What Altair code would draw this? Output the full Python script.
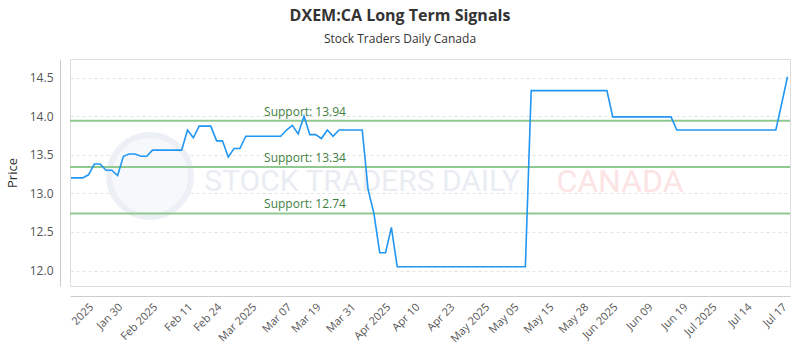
import altair as alt
import pandas as pd

# ---- data ----
price = [
    13.20, 13.20, 13.20, 13.24, 13.38, 13.38, 13.30, 13.30, 13.23, 13.48,
    13.51, 13.51, 13.48, 13.48, 13.56, 13.56, 13.56, 13.56, 13.56, 13.56,
    13.82, 13.72, 13.87, 13.87, 13.87, 13.68, 13.68, 13.47, 13.58, 13.58,
    13.74, 13.74, 13.74, 13.74, 13.74, 13.74, 13.74, 13.82, 13.88, 13.77,
    14.00, 13.76, 13.76, 13.71, 13.82, 13.74, 13.82, 13.82, 13.82, 13.82,
    13.82, 13.05, 12.74, 12.23, 12.23, 12.56, 12.05, 12.05, 12.05, 12.05,
    12.05, 12.05, 12.05, 12.05, 12.05, 12.05, 12.05, 12.05, 12.05, 12.05,
    12.05, 12.05, 12.05, 12.05, 12.05, 12.05, 12.05, 12.05, 12.05, 14.33,
    14.33, 14.33, 14.33, 14.33, 14.33, 14.33, 14.33, 14.33, 14.33, 14.33,
    14.33, 14.33, 14.33, 13.99, 13.99, 13.99, 13.99, 13.99, 13.99, 13.99,
    13.99, 13.99, 13.99, 13.99, 13.82, 13.82, 13.82, 13.82, 13.82, 13.82,
    13.82, 13.82, 13.82, 13.82, 13.82, 13.82, 13.82, 13.82, 13.82, 13.82,
    13.82, 13.82, 14.16, 14.51,
]
day_index = list(range(len(price)))

tick_index = [4, 9, 15, 21, 26, 32, 38, 43, 49, 55, 60, 66, 72, 77, 83, 89,
              94, 100, 106, 111, 117, 123]
tick_labels = ["2025", "Jan 30", "Feb 2025", "Feb 11", "Feb 24", "Mar 2025",
               "Mar 07", "Mar 19", "Mar 31", "Apr 2025", "Apr 10", "Apr 23",
               "May 2025", "May 05", "May 15", "May 28", "Jun 2025", "Jun 09",
               "Jun 19", "Jul 2025", "Jul 14", "Jul 17"]

support_levels = [13.94, 13.34, 12.74]
y_ticks = [12.0, 12.5, 13.0, 13.5, 14.0, 14.5]

df = pd.DataFrame({"i": day_index, "price": price})
sup = pd.DataFrame({"level": support_levels})
sup["label"] = ["Support: %.2f" % v for v in support_levels]

labels_js = "[" + ",".join("'%s'" % s for s in tick_labels) + "]"
ticks_js = "[" + ",".join(str(t) for t in tick_index) + "]"
label_expr = f"{labels_js}[indexof({ticks_js}, datum.value)]"

FONT = "Open Sans"
WM_FONT = "Roboto"

x_scale = alt.Scale(domain=[-0.17, 123.43], nice=False, zero=False)
y_scale = alt.Scale(domain=[11.8, 14.74], nice=False, zero=False)

x_enc = alt.X("i:Q", scale=x_scale, axis=alt.Axis(
    values=tick_index, labelExpr=label_expr, labelAngle=-45, grid=False,
    ticks=False, offset=10, domainColor="#cccccc", labelColor="#555555",
    labelFontSize=11, labelFont=FONT, labelPadding=5, labelOffset=-7,
    title=None, labelOverlap=False, labelFlush=False))
y_enc = alt.Y("price:Q", scale=y_scale, axis=alt.Axis(
    values=y_ticks, format=".1f", grid=True, gridDash=[3, 3],
    gridColor="#e3e3e3", ticks=False, offset=10, domainColor="#cccccc",
    labelColor="#555555", labelFontSize=12, labelFont=FONT, labelPadding=7,
    title="Price", titleFont=FONT, titleFontSize=13, titleFontWeight="normal",
    titleColor="#333333", titlePadding=10))

# watermark
wm = pd.DataFrame({"t": ["STOCK TRADERS DAILY"]})
logo = alt.Chart(wm).mark_point(
    shape="circle", size=6700, filled=True, fill="#f6f8fb", strokeWidth=6,
    stroke="#eceff5", opacity=1).encode(x=alt.value(80), y=alt.value(117))
wm_text = alt.Chart(wm).mark_text(
    font=WM_FONT, fontSize=30, color="#e9edf3", align="center",
    baseline="middle").encode(x=alt.value(292), y=alt.value(123), text="t:N")
wm_text2 = alt.Chart(pd.DataFrame({"t": ["CANADA"]})).mark_text(
    font=WM_FONT, fontSize=32, color="#fce4e4", align="center",
    baseline="middle").encode(x=alt.value(550), y=alt.value(123), text="t:N")

rules = alt.Chart(sup).mark_rule(color="#8fc98f", strokeWidth=2).encode(
    y=alt.Y("level:Q", scale=y_scale))
rule_text = alt.Chart(sup).mark_text(
    font=FONT, fontSize=12, color="#3f7f3f", align="center",
    baseline="bottom", dy=-2).encode(
    x=alt.value(235), y=alt.Y("level:Q", scale=y_scale), text="label:N")

line = alt.Chart(df).mark_line(color="#2196f3", strokeWidth=1.6).encode(
    x=x_enc, y=y_enc)

chart = alt.layer(logo, wm_text, wm_text2, rules, line, rule_text).properties(
    width=720, height=227,
    title=alt.TitleParams(
        text="DXEM:CA Long Term Signals",
        subtitle="Stock Traders Daily Canada",
        font=FONT, fontSize=16, fontWeight="bold", color="#333333",
        subtitleFont=FONT, subtitleFontSize=12, subtitleColor="#333333",
        subtitlePadding=10, anchor="middle", offset=14, dx=-30),
    autosize=alt.AutoSizeParams(type="none"),
    padding={"left": 70, "top": 59, "right": 10, "bottom": 64},
).configure_view(stroke="#666666", strokeWidth=1).configure(
    background="white")

chart.save("out.html", embed_options={"renderer": "svg", "actions": False})
